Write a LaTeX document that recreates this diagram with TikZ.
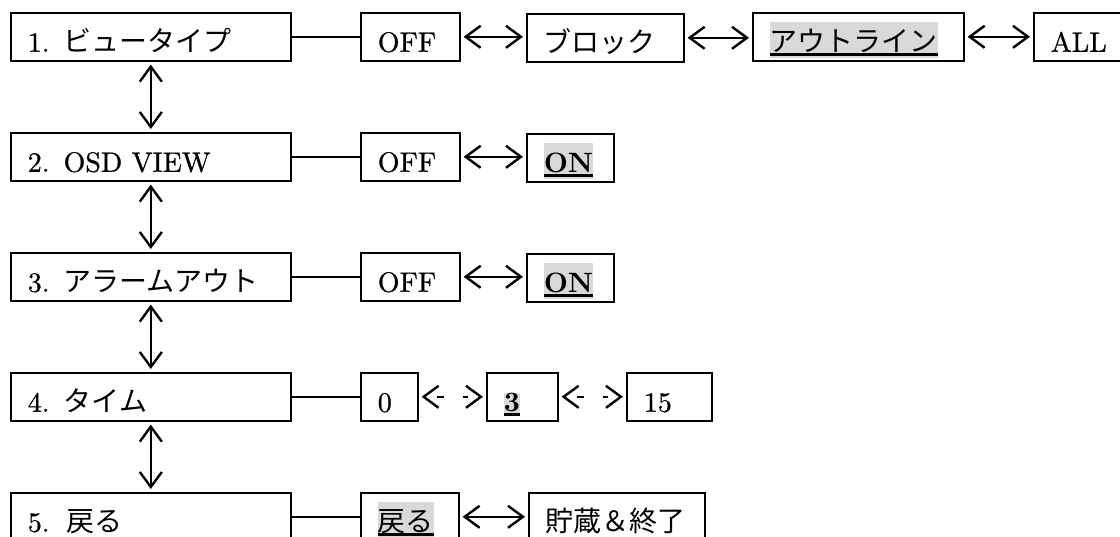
\documentclass[tikz,border=0pt]{standalone}
\usepackage{fontspec}
\setmainfont{lmroman10-regular.otf}[BoldFont=lmroman10-bold.otf, UprightFeatures={FakeBold=0.8}]
\usetikzlibrary{arrows.meta}
\newfontfamily\cjk{Noto Sans CJK JP}
\definecolor{hl}{gray}{0.85}
\newcommand\jp[1]{{\cjk #1}}
\newsavebox\hlbox
\newcommand\hlu[2][{\rule[-6pt]{0pt}{36pt}}]{\sbox\hlbox{#2}{\setlength{\fboxsep}{0pt}\colorbox{hl}{#1\rlap{\rule[-4pt]{\wd\hlbox}{2.4pt}}\usebox\hlbox}}}
\tikzset{
  box/.style={draw, line width=1.6pt, anchor=north west, inner xsep=17pt, inner ysep=0pt,
    text height=39pt, text depth=9pt, align=left, font=\fontsize{28}{34}\selectfont},
  link/.style={line width=1.8pt},
  barbs/.style={{Straight Barb[length=15pt,width=22pt]}-{Straight Barb[length=15pt,width=22pt]}},
  biarrow/.style={line width=2.4pt, barbs, shorten <=3pt, shorten >=3pt},
  shaftA/.style={line width=2.4pt, shorten <=18pt, shorten >=42pt},
  shaftB/.style={line width=2.4pt, shorten <=44pt, shorten >=18pt},
  tipsonly/.style={tips, line width=2.4pt, barbs, shorten <=3pt, shorten >=3pt}
}
\begin{document}
\begin{tikzpicture}[x=1pt,y=-1pt]
\useasboundingbox (0,0) rectangle (1120,537);
\clip (0,0) rectangle (1120,537);
% left column
\node[box, text width=246pt] (L1) at (10,12) {1.\hspace{14pt}\jp{ビュータイプ}};
\node[box, text width=246pt] (L2) at (10,132) {2. OSD VIEW};
\node[box, text width=246pt] (L3) at (10,252) {3.\hspace{14pt}\jp{アラームアウト}};
\node[box, text width=246pt] (L4) at (10,372) {4.\hspace{14pt}\jp{タイム}};
\node[box, text width=246pt] (L5) at (10,492) {5.\hspace{17pt}\jp{戻る}};
% row 1
\node[box, text width=65pt] (OFF1) at (360,12) {OFF};
\node[box, text width=123pt] (BLK) at (526,13) {\jp{ブロック}};
\node[box, text width=177pt] (OUT) at (752,12) {\hlu{\jp{アウトライン}}};
\node[box, text width=86pt] (ALL) at (1033,12) {ALL};
% row 2
\node[box, text width=65pt] (OFF2) at (360,132) {OFF};
\node[box, text width=53pt] (ON2) at (526,133) {\hlu{\bfseries ON}};
% row 3
\node[box, text width=65pt] (OFF3) at (360,252) {OFF};
\node[box, text width=53pt] (ON3) at (526,253) {\hlu{\bfseries ON}};
% row 4
\node[box, text width=23pt] (T0) at (360,372) {0};
\node[box, text width=37pt] (T3) at (486,372) {\hlu[{\rule[-2pt]{0pt}{21pt}}]{\bfseries 3}};
\node[box, text width=51pt] (T15) at (626,372) {15};
% row 5
\node[box, text width=64pt] (BACK) at (360,492) {\hlu{\jp{戻る}}};
\node[box, text width=142pt] (SAVE) at (528,492) {\jp{貯蔵＆終了}};
% vertical arrows
\draw[biarrow] (L1.south) -- (L2.north);
\draw[biarrow] (L2.south) -- (L3.north);
\draw[biarrow] (L3.south) -- (L4.north);
\draw[biarrow] (L4.south) -- (L5.north);
% links
\draw[link] (L1.east) -- (OFF1.west);
\draw[link] (L2.east) -- (OFF2.west);
\draw[link] (L3.east) -- (OFF3.west);
\draw[link] (L4.east) -- (T0.west);
\draw[link] (L5.east) -- (BACK.west);
% option arrows
\draw[biarrow] (OFF1.east) -- (OFF1.east -| BLK.west);
\draw[biarrow] (BLK.east) -- (BLK.east -| OUT.west);
\draw[biarrow] (OUT.east) -- (OUT.east -| ALL.west);
\draw[biarrow] (OFF2.east) -- (OFF2.east -| ON2.west);
\draw[biarrow] (OFF3.east) -- (OFF3.east -| ON3.west);
\draw[shaftA] (T0.east) -- (T0.east -| T3.west);
\draw[shaftB] (T0.east) -- (T0.east -| T3.west);
\path[tipsonly] (T0.east) -- (T0.east -| T3.west);
\draw[shaftA] (T3.east) -- (T3.east -| T15.west);
\draw[shaftB] (T3.east) -- (T3.east -| T15.west);
\path[tipsonly] (T3.east) -- (T3.east -| T15.west);
\draw[biarrow] (BACK.east) -- (BACK.east -| SAVE.west);
\end{tikzpicture}
\end{document}
